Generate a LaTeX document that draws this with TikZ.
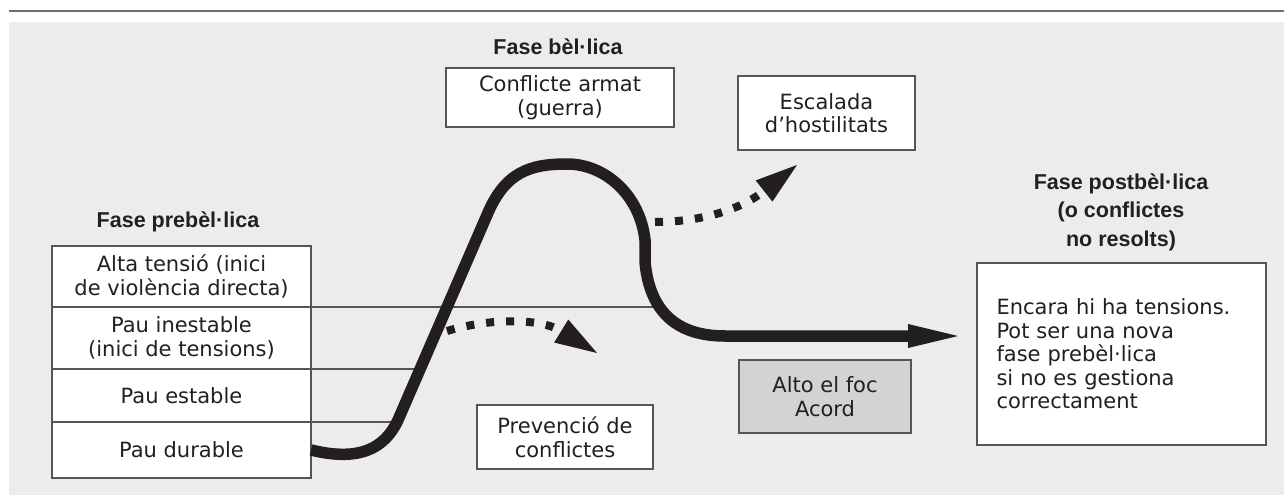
\documentclass[tikz,border=0pt]{standalone}
\usepackage{fontspec}
\setmainfont{DejaVu Sans}[BoldFont={Liberation Sans Bold}]
\usepackage{tikz}
\usetikzlibrary{arrows.meta,positioning}
\definecolor{ink}{HTML}{231F20}
\definecolor{frame}{HTML}{555555}
\definecolor{panel}{HTML}{ECECEC}
\definecolor{rule}{HTML}{707070}
\definecolor{shade}{HTML}{D2D3D4}

\begin{document}
\begin{tikzpicture}[x=1pt,y=-1pt,
    every node/.style={font=\fontsize{21}{23.5}\selectfont, text=ink},
    box/.style={draw=frame, line width=1.2pt, fill=white, align=center, inner sep=0pt, outer sep=0pt},
    phase/.style={font=\fontsize{21.5}{28.5}\selectfont\bfseries, align=center},
    curve/.style={line width=11.5pt, draw=ink, -{Triangle[length=50pt,width=24pt,line width=0pt]}},
    dots/.style={line width=8pt, draw=ink, dash pattern=on 8pt off 12pt, -{Triangle[length=42pt,width=27pt,line width=0pt]}}]
      \useasboundingbox (0,0) rectangle (1284,495);
      \fill[panel] (9,22) rectangle (1284,495);
      \draw[rule, line width=2.5pt] (9,11) -- (1284,11);

      \node[phase] (pre) at (178,222) {Fase prebèl·lica};
      \node[phase] (bel) at (558,47) {Fase bèl·lica};
      \node[phase] (post) at (1121,212) {Fase postbèl·lica\\(o conflictes\\no resolts)};

      \node[box, minimum width=259pt, minimum height=61pt] (alta) at (181.5,276.5) {Alta tensió (inici\\de violència directa)};
      \node[box, minimum width=259pt, minimum height=62pt, below=0pt of alta] (inestable) {Pau inestable\\(inici de tensions)};
      \node[box, minimum width=259pt, minimum height=53pt, below=0pt of inestable] (estable) {Pau estable};
      \node[box, minimum width=259pt, minimum height=56pt, below=0pt of estable] (durable) {Pau durable};

      \node[box, minimum width=228pt, minimum height=59pt] (guerra) at (560,97.5) {Conflicte armat\\(guerra)};
      \node[box, minimum width=177pt, minimum height=74pt] (escalada) at (826.5,113) {Escalada\\d’hostilitats};
      \node[box, minimum width=176pt, minimum height=64pt] (prevencio) at (565,437) {Prevenció de\\conflictes};
      \node[box, fill=shade, minimum width=172pt, minimum height=73pt] (alto) at (825,396.5) {Alto el foc\\Acord};
      \node[box, minimum width=289pt, minimum height=182pt, text width=250pt, align=left] (nova) at (1121.5,354)
        {Encara hi ha tensions.\\Pot ser una nova\\fase prebèl·lica\\si no es gestiona\\correctament};

      \coordinate (c1) at (664,307);
      \coordinate (c2) at (420,369);
      \coordinate (c3) at (397,422);
      \coordinate (tip) at (958,336);
      \coordinate (up) at (655,222);
      \coordinate (upend) at (797,165);
      \coordinate (low) at (447,331);
      \coordinate (lowend) at (597,353);

      \draw[frame, line width=1.2pt] (alta.south east) -- (c1);
      \draw[frame, line width=1.2pt] (inestable.south east) -- (c2);
      \draw[frame, line width=1.2pt] (estable.south east) -- (c3);

      \draw[curve] (durable.east) .. controls (360,462) and (385,448) .. (398,420) -- (487,215)
        .. controls (505,172) and (530,164) .. (567,164) .. controls (605,164) and (640,195) .. (645,240)
        -- (645,262) .. controls (650,315) and (680,336) .. (725,336) -- (tip);
      \draw[dots] (up) .. controls (700,222) and (740,210) .. (upend);
      \draw[dots] (low) .. controls (490,318) and (540,318) .. (lowend);
    \end{tikzpicture}
\end{document}
